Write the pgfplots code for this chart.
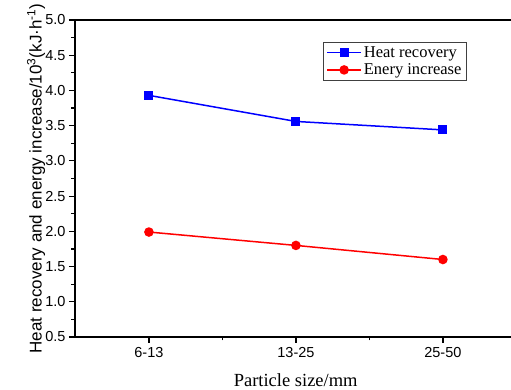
\documentclass[border=0pt]{standalone}
\usepackage{pgfplots}
\pgfplotsset{compat=1.18}
\usepackage{fontspec}
\setmainfont{Liberation Serif}
\setsansfont{Liberation Sans}
\begin{document}
\begin{tikzpicture}
\begin{axis}[
  scale only axis, width=441.4pt, height=317pt,
  xmin=-0.503, xmax=2.5, ymin=0.5, ymax=5.0,
  axis lines=left, axis line style={-, line width=1.6pt},
  xtick={0,1,2}, xticklabels={6-13,13-25,25-50}, minor xtick={0.5,1.5},
  ytick={0.5,1.0,1.5,2.0,2.5,3.0,3.5,4.0,4.5,5.0},
  minor ytick={0.75,1.25,1.75,2.25,2.75,3.25,3.75,4.25,4.75},
  tick align=outside, major tick length=6pt, minor tick length=3.5pt,
  every tick/.style={black, line width=1.2pt},
  tick label style={font=\fontsize{14.5}{16}\selectfont\sffamily},
  /pgf/number format/assume math mode=true,
  yticklabel style={/pgf/number format/.cd, fixed, fixed zerofill, precision=1},
  xticklabel style={yshift=-1pt},
  xlabel={Particle size/mm},
  xlabel style={font=\fontsize{18.5}{20}\selectfont\rmfamily, at={(axis description cs:0.5,0)}, anchor=center, yshift=-43pt},
  ylabel={Heat recovery and energy increase/10\textsuperscript{3}(kJ·h\textsuperscript{-1})},
  every axis y label/.style={at={(axis description cs:-0.088,0.5)}, rotate=90, anchor=center, font=\fontsize{17}{18}\selectfont\sffamily},
  legend cell align=left,
  legend style={at={(rel axis cs:0.5618,0.9306)}, anchor=north west, draw=black!75, line width=0.8pt,
    font=\fontsize{16.5}{18}\selectfont\rmfamily, inner xsep=3pt, inner ysep=2pt, row sep=1pt},
  legend image code/.code={\draw[mark repeat=2,mark phase=2,#1] plot coordinates {(0pt,0pt) (17pt,0pt) (34pt,0pt)};},
]
\addplot[blue, line width=1.5pt, mark=square*, mark size=3.7pt, mark options={solid}] coordinates {(0,3.93) (1,3.56) (2,3.44)};
\addlegendentry{Heat recovery}
\addplot[red, line width=1.5pt, mark=*, mark size=4pt, mark options={solid}] coordinates {(0,1.99) (1,1.80) (2,1.60)};
\addlegendentry{Enery increase}
\draw[line width=1.6pt] (rel axis cs:0,1) -- (rel axis cs:1,1);
\coordinate (sw) at (rel axis cs:0,0);
\end{axis}
\pgfresetboundingbox
\useasboundingbox ([xshift=-75pt,yshift=-53pt]sw) rectangle ([xshift=436pt,yshift=337pt]sw);
\end{tikzpicture}
\end{document}
